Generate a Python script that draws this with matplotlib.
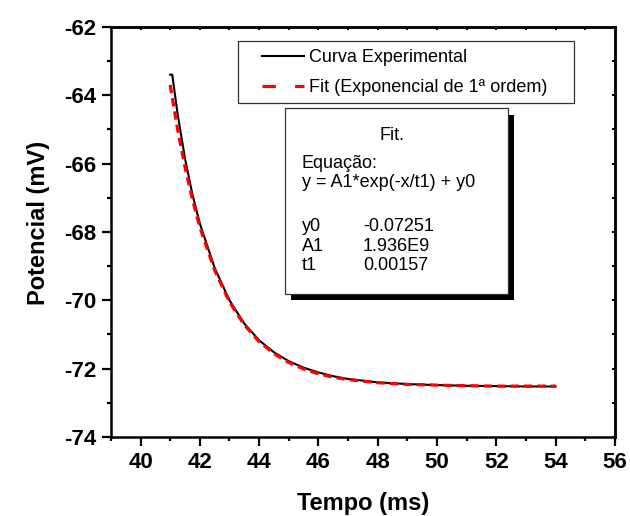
import matplotlib
matplotlib.use("Agg")
import matplotlib.pyplot as plt
from matplotlib.lines import Line2D
from matplotlib.patches import Rectangle
from matplotlib.ticker import MultipleLocator

plt.rcParams['font.family'] = ['Liberation Sans', 'DejaVu Sans']
plt.rcParams['axes.unicode_minus'] = False

# curva experimental (ms, mV)
tempo_exp = [41.0, 41.07, 41.25, 41.5, 41.75, 42.0, 42.5, 43.0, 43.5, 44.0, 44.5, 45.0,
             45.5, 46.0, 46.5, 47.0, 48.0, 49.0, 50.0, 51.0, 52.0, 53.0, 54.0]
pot_exp = [-63.4, -63.4, -64.55, -65.85, -66.9, -67.75, -69.05, -70.0, -70.68, -71.17,
           -71.52, -71.78, -71.97, -72.11, -72.22, -72.30, -72.40, -72.45, -72.48,
           -72.50, -72.51, -72.52, -72.52]

# fit exponencial de 1a ordem
tempo_fit = [41.0, 41.25, 41.5, 41.75, 42.0, 42.5, 43.0, 43.5, 44.0, 44.5, 45.0, 45.5,
             46.0, 46.5, 47.0, 48.0, 49.0, 50.0, 51.0, 52.0, 53.0, 54.0]
pot_fit = [-63.7, -65.0, -66.1, -67.05, -67.86, -69.12, -70.05, -70.72, -71.21, -71.56,
           -71.82, -72.01, -72.15, -72.25, -72.32, -72.41, -72.46, -72.48, -72.50,
           -72.51, -72.51, -72.51]

param_nomes = ['y0', 'A1', 't1']
param_valores = ['-0.07251', '1.936E9', '0.00157']

fig = plt.figure(figsize=(6.3, 5.16), dpi=100)
ax = fig.add_axes([0.176, 0.153, 0.8, 0.795])

ax.plot(tempo_exp, pot_exp, color='black', lw=1.5, zorder=3)
ax.plot(tempo_fit, pot_fit, color='red', lw=2.3, dashes=(2.6, 1.6), zorder=4)

ax.set_xlim(39, 56)
ax.set_ylim(-74, -62)
for a in (ax.xaxis, ax.yaxis):
    a.set_major_locator(MultipleLocator(2))
    a.set_minor_locator(MultipleLocator(1))
for s in ax.spines.values():
    s.set_linewidth(1.8)
ax.tick_params(which='major', direction='out', length=6.5, width=1.6, labelsize=16, pad=4)
ax.tick_params(which='minor', direction='out', length=3, width=1.6)
for lab in ax.get_xticklabels() + ax.get_yticklabels():
    lab.set_fontweight('bold')

top = ax.secondary_xaxis('top')
right = ax.secondary_yaxis('right')
for sec, a in ((top, top.xaxis), (right, right.yaxis)):
    a.set_major_locator(MultipleLocator(2))
    a.set_minor_locator(MultipleLocator(1))
    sec.tick_params(which='both', direction='in', length=2.5, width=1.4)
    sec.spines[:].set_linewidth(1.8)
top.tick_params(labeltop=False)
right.tick_params(labelright=False)

ax.set_xlabel('Tempo (ms)', fontsize=17, fontweight='bold', labelpad=14)
ax.set_ylabel('Potencial (mV)', fontsize=17, fontweight='bold')
ax.yaxis.set_label_coords(-0.121, 0.522)

# legenda
h1 = Line2D([], [], color='black', lw=1.5)
h2 = Line2D([], [], color='red', lw=2.3, dashes=(4.2, 6.0))
ax.add_patch(Rectangle((0.252, 0.815), 0.667, 0.151, transform=ax.transAxes,
                       facecolor='white', edgecolor='#333333', lw=0.9, zorder=5))
ax.legend([h1, h2], ['Curva Experimental', 'Fit (Exponencial de 1ª ordem)'],
          loc='upper left', bbox_to_anchor=(0.30, 0.946), frameon=False,
          borderpad=0, borderaxespad=0, handlelength=2.3, handletextpad=0.3,
          labelspacing=0.72, fontsize=13).set_zorder(6)

# caixa do fit com sombra
ax.add_patch(Rectangle((0.357, 0.334), 0.443, 0.45, transform=ax.transAxes,
                       facecolor='black', edgecolor='none', zorder=5))
ax.add_patch(Rectangle((0.345, 0.349), 0.443, 0.453, transform=ax.transAxes,
                       facecolor='white', edgecolor='#333333', lw=0.9, zorder=6))
ax.text(0.557, 0.734, 'Fit.', transform=ax.transAxes, fontsize=13,
        ha='center', va='center', zorder=7)
ax.text(0.379, 0.668, 'Equação:', transform=ax.transAxes, fontsize=13,
        ha='left', va='center', zorder=7)
ax.text(0.379, 0.62, 'y = A1*exp(-x/t1) + y0', transform=ax.transAxes, fontsize=13,
        ha='left', va='center', zorder=7)
for i, (nome, val) in enumerate(zip(param_nomes, param_valores)):
    yy = 0.514 - i * 0.0485
    ax.text(0.379, yy, nome, transform=ax.transAxes, fontsize=13,
            ha='left', va='center', zorder=7)
    ax.text(0.5, yy, val, transform=ax.transAxes, fontsize=13,
            ha='left', va='center', zorder=7)

fig.savefig('out.png', dpi=100)
